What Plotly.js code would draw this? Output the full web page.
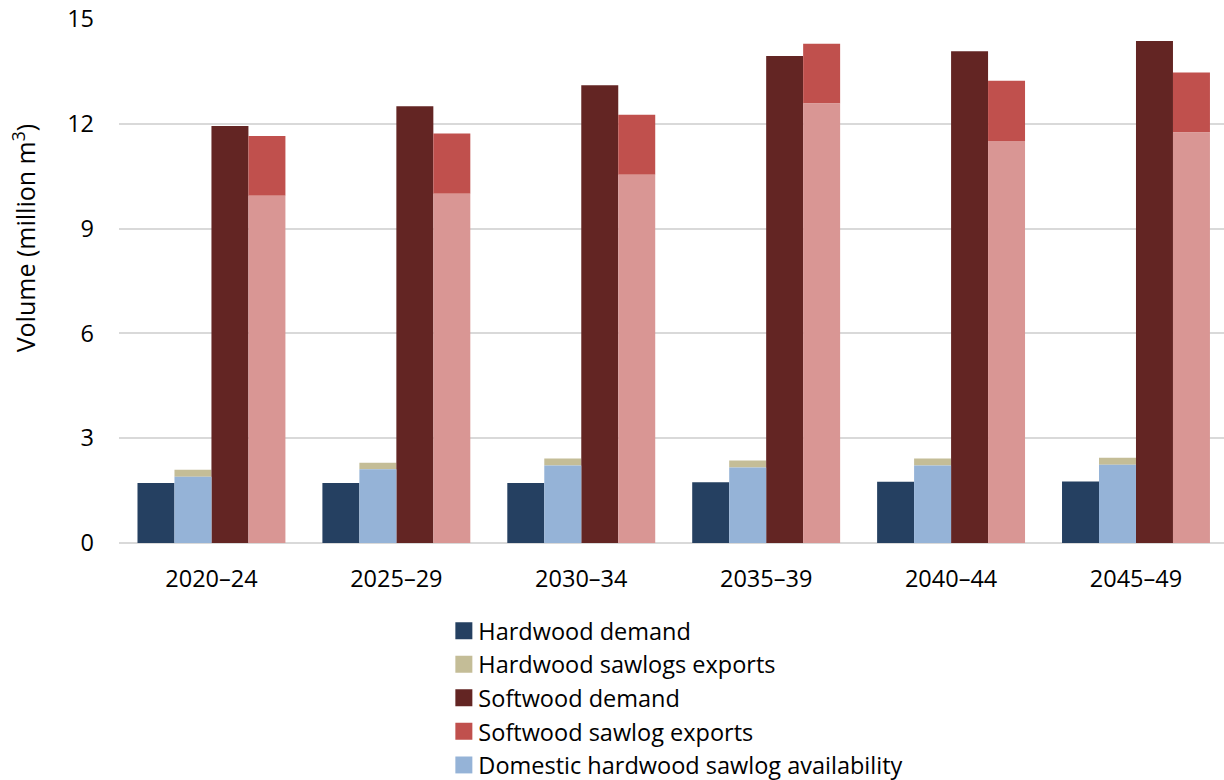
<!DOCTYPE html>
<html>
<head>
<meta charset="utf-8">
<script src="https://cdn.plot.ly/plotly-3.0.1.min.js"></script>
<style>
html,body{margin:0;padding:0;background:#fff;overflow:hidden;}
#chart{width:1224px;height:840px;}
</style>
</head>
<body>
<div id="chart"></div>
<script>
var categories = ['2020–24','2025–29','2030–34','2035–39','2040–44','2045–49'];
var hardwoodDemand = [1.72, 1.72, 1.72, 1.74, 1.75, 1.76];
var domesticHardwood = [1.90, 2.11, 2.22, 2.16, 2.22, 2.24];
var hardwoodExports = [0.20, 0.19, 0.20, 0.20, 0.20, 0.20];
var softwoodDemand = [11.94, 12.50, 13.10, 13.94, 14.08, 14.37];
var domesticSoftwood = [9.94, 10.00, 10.54, 12.58, 11.51, 11.75];
var softwoodExports = [1.71, 1.72, 1.72, 1.71, 1.72, 1.72];
var yTicks = [0, 3, 6, 9, 12, 15];

var FONT = '"Open Sans", "Noto Sans", sans-serif';

function bar(name, y, color, group, base) {
  var t = {
    type: 'bar', name: name, x: categories, y: y,
    offsetgroup: group,
    marker: {color: color, line: {width: 0}},
    hoverinfo: 'skip'
  };
  if (base) t.base = base;
  return t;
}

var data = [
  bar('Hardwood demand', hardwoodDemand, '#254061', 'hd'),
  bar('Hardwood sawlogs exports', hardwoodExports, '#C4BD97', 'hw', domesticHardwood),
  bar('Softwood demand', softwoodDemand, '#632523', 'sd'),
  bar('Softwood sawlog exports', softwoodExports, '#C0504D', 'sw', domesticSoftwood),
  bar('Domestic hardwood sawlog availability', domesticHardwood, '#95B3D7', 'hw'),
  bar('Domestic softwood sawlog availability', domesticSoftwood, '#D99694', 'sw')
];

var H = 840;
var plotTop = 19, plotBottom = 543.5, plotLeft = 118.5;
var plotH = plotBottom - plotTop;
var plotW = 1224 - plotLeft;

var layout = {
  width: 1224, height: H,
  margin: {l: plotLeft, r: 0, t: plotTop, b: H - plotBottom, pad: 0},
  paper_bgcolor: '#fff', plot_bgcolor: '#fff',
  barmode: 'group', bargap: 0.2, bargroupgap: 0,
  font: {family: FONT, color: '#000', size: 22},
  showlegend: true,
  xaxis: {
    type: 'category', range: [-0.5, 5.476],
    showgrid: false, zeroline: false, showline: false,
    ticks: '', tickfont: {family: FONT, size: 23.5, color: '#000'},
    ticklabelstandoff: 19, automargin: false, fixedrange: true
  },
  yaxis: {
    range: [0, 15], tickvals: yTicks, ticktext: yTicks.map(String),
    showgrid: true, gridcolor: '#D9D9D9', gridwidth: 2,
    zeroline: true, zerolinecolor: '#D9D9D9', zerolinewidth: 2,
    showline: false, ticks: '',
    tickfont: {family: FONT, size: 23.5, color: '#000'},
    ticklabelstandoff: 24, automargin: false, fixedrange: true
  },
  legend: {
    orientation: 'v', xref: 'paper', yref: 'paper',
    x: (438 - plotLeft) / plotW, xanchor: 'left',
    y: (plotBottom - 609.5) / plotH, yanchor: 'top',
    font: {family: FONT, size: 23.5, color: '#000'},
    bgcolor: 'rgba(0,0,0,0)', borderwidth: 0,
    traceorder: 'normal', maxheight: 600
  },
  annotations: [{
    text: 'Volume (million m<sup>3</sup>)',
    xref: 'paper', yref: 'paper',
    x: (24 - plotLeft) / plotW, y: (plotBottom - 239) / plotH,
    xanchor: 'center', yanchor: 'middle',
    textangle: -90, showarrow: false,
    font: {family: FONT, size: 25, color: '#000'}
  }]
};

var gdEl = document.getElementById('chart');
function fixLegend() {
  var paths = gdEl.querySelectorAll('g.legendpoints path');
  paths.forEach(function(p){
    p.setAttribute('d', 'M8.5,8.5H-8.5V-8.5H8.5Z');
    p.setAttribute('transform', 'translate(25.5,0)');
  });
}
Plotly.newPlot(gdEl, data, layout, {staticPlot: true, displayModeBar: false}).then(function(gd){
  fixLegend();
  gd.on('plotly_afterplot', fixLegend);
  setTimeout(fixLegend, 50);
  setTimeout(fixLegend, 300);
  setTimeout(fixLegend, 1000);
});
</script>
</body>
</html>
